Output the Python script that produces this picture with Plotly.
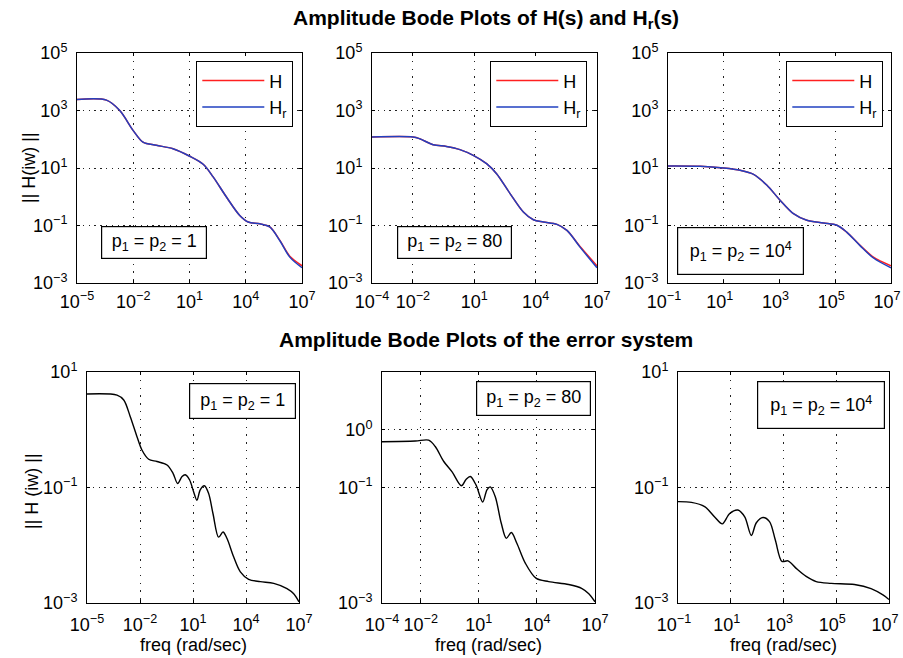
import numpy as np
import plotly.graph_objects as go

# ---- Bode magnitude data (log10 of frequency, log10 of magnitude) ----
# Row 1: full model H and reduced model H_r for three pole settings
top1_logw = [-5, -3.43, -2.72, -2.01, -1.48, -0.77, 0.12, 1.01, 1.73, 2.26, 2.97, 3.68, 4.13, 4.75, 5.28, 5.82, 6.35, 7]
top1_H = [3.38, 3.36, 3.0, 2.31, 1.90, 1.79, 1.67, 1.41, 1.13, 0.69, -0.01, -0.65, -0.88, -0.94, -1.05, -1.52, -2.07, -2.40]
top1_Hr = [3.38, 3.36, 3.0, 2.31, 1.90, 1.79, 1.67, 1.41, 1.13, 0.69, -0.01, -0.65, -0.88, -0.94, -1.05, -1.53, -2.10, -2.47]

top2_logw = [-4, -2, -1.67, -1.01, -0.36, 0.30, 0.95, 1.60, 2.09, 2.75, 3.40, 3.89, 4.38, 5.04, 5.53, 6.18, 7]
top2_H = [2.08, 2.08, 2.02, 1.81, 1.75, 1.64, 1.44, 1.15, 0.80, 0.11, -0.53, -0.80, -0.88, -0.96, -1.17, -1.74, -2.40]
top2_Hr = [2.08, 2.08, 2.02, 1.81, 1.75, 1.64, 1.44, 1.15, 0.80, 0.11, -0.53, -0.80, -0.88, -0.96, -1.17, -1.76, -2.47]

top3_logw = [-1, 0.16, 0.99, 1.59, 2.07, 2.55, 3.02, 3.50, 3.98, 4.58, 5.06, 5.41, 5.89, 6.37, 7]
top3_H = [1.07, 1.06, 1.0, 0.92, 0.78, 0.40, -0.12, -0.59, -0.82, -0.91, -0.99, -1.23, -1.69, -2.10, -2.40]
top3_Hr = [1.07, 1.06, 1.0, 0.92, 0.78, 0.40, -0.12, -0.59, -0.82, -0.91, -0.99, -1.23, -1.70, -2.13, -2.47]

# Row 2: error system magnitude
err1_logw = [-5, -3.30, -2.92, -2.55, -2.17, -1.89, -1.51, -1.04, -0.47, -0.13, 0.13, 0.38, 0.56, 0.81, 1.03,
             1.22, 1.41, 1.64, 1.88, 2.13, 2.45, 2.70, 2.92, 3.30, 3.68, 4.15, 4.81, 5.57, 6.32, 6.70, 7]
err1_mag = [0.62, 0.60, 0.515, 0.226, -0.12, -0.35, -0.51, -0.55, -0.61, -0.754, -0.93, -0.81, -0.78, -0.87, -1.07,
            -1.22, -1.04, -0.97, -1.10, -1.45, -1.86, -1.77, -1.88, -2.20, -2.46, -2.59, -2.63, -2.66, -2.75, -2.84, -2.98]

err2_logw = [-4, -2.28, -1.59, -1.25, -0.81, -0.38, 0.10, 0.34, 0.56, 0.86, 1.20, 1.42, 1.59, 1.85, 2.16,
             2.42, 2.68, 2.97, 3.40, 3.95, 4.61, 5.64, 6.33, 6.68, 7]
err2_mag = [-0.207, -0.195, -0.18, -0.29, -0.55, -0.73, -0.97, -0.86, -0.81, -0.96, -1.25, -1.04, -0.99, -1.16, -1.62,
            -1.88, -1.78, -1.97, -2.31, -2.57, -2.63, -2.68, -2.75, -2.84, -2.98]

err3_logw = [-1, -0.49, 0.01, 0.39, 0.68, 0.96, 1.27, 1.53, 1.78, 1.97, 2.22, 2.47, 2.69, 2.94, 3.17,
             3.48, 3.86, 4.24, 4.81, 5.69, 6.32, 6.77, 7]
err3_mag = [-1.245, -1.257, -1.33, -1.51, -1.63, -1.45, -1.39, -1.51, -1.83, -1.61, -1.52, -1.59, -1.91, -2.28, -2.27,
            -2.40, -2.54, -2.63, -2.66, -2.68, -2.75, -2.86, -2.94]

# Axis ranges (decades) and tick exponents
x_ranges = [(-5, 7), (-4, 7), (-1, 7)]
x_tick_exps = [[-5, -2, 1, 4, 7], [-4, -2, 1, 4, 7], [-1, 1, 3, 5, 7]]
top_y_tick_exps = [-3, -1, 1, 3, 5]
bot_y_tick_exps = [[-3, -1, 1], [-3, -1, 0], [-3, -1, 1]]

pole_labels = ["p<sub>1</sub> = p<sub>2</sub> = 1",
               "p<sub>1</sub> = p<sub>2</sub> = 80",
               "p<sub>1</sub> = p<sub>2</sub> = 10<sup>4</sup>"]

FONT = "Liberation Sans, Arial, Helvetica, sans-serif"
W, H = 903, 658
TXT = 18


def px_x(a, b):
    return [a / W, b / W]


def px_y(top, bottom):
    return [1 - bottom / H, 1 - top / H]


def pow_label(e):
    s = str(e).replace("-", "\u2212")
    return f"10<sup>{s}</sup>"


def tolin(arr):
    return np.power(10.0, np.array(arr, dtype=float))


# Panel frames in pixels: (left, right, top, bottom)
top_frames = [(77, 302, 53, 283), (372, 597, 53, 283), (668, 891, 53, 283)]
bot_frames = [(87, 299, 372, 603), (382, 595, 372, 603), (678, 889, 372, 603)]
# small leftward nudge of x tick labels so the last label stays inside the page
x_label_shift = [0, 0, -4]

fig = go.Figure()

top_sets = [(top1_logw, top1_H, top1_Hr), (top2_logw, top2_H, top2_Hr), (top3_logw, top3_H, top3_Hr)]
err_sets = [(err1_logw, err1_mag), (err2_logw, err2_mag), (err3_logw, err3_mag)]

legend_names = ["legend", "legend2", "legend3"]

for i, (lw, hm, hrm) in enumerate(top_sets):
    xa = "x" if i == 0 else f"x{i + 1}"
    ya = "y" if i == 0 else f"y{i + 1}"
    fig.add_trace(go.Scatter(x=tolin(lw), y=tolin(hm), mode="lines", name="H",
                             line=dict(color="#ff2020", width=1.5, shape="spline", smoothing=0.9),
                             xaxis=xa, yaxis=ya, legend=legend_names[i]))
    fig.add_trace(go.Scatter(x=tolin(lw), y=tolin(hrm), mode="lines", name="H<sub>r</sub>",
                             line=dict(color="#2040c0", width=1.5, shape="spline", smoothing=0.9),
                             xaxis=xa, yaxis=ya, legend=legend_names[i]))

for i, (lw, m) in enumerate(err_sets):
    fig.add_trace(go.Scatter(x=tolin(lw), y=tolin(m), mode="lines", showlegend=False,
                             line=dict(color="black", width=1.4, shape="spline", smoothing=0.9),
                             xaxis=f"x{i + 4}", yaxis=f"y{i + 4}"))

axis_common = dict(type="log", showline=True, linecolor="black", linewidth=1, mirror="ticks",
                   showgrid=True, gridcolor="#222222", gridwidth=1.3, automargin=False,
                   zeroline=False, ticks="inside", ticklen=3, tickcolor="black", tickwidth=1,
                   ticklabeloverflow="allow",
                   tickfont=dict(family=FONT, size=TXT, color="black"),
                   fixedrange=True)
x_grid_dash = "1.3px,6.5px"
y_grid_dash = "1.3px,4.5px"

layout = {}
for i in range(3):
    l, r, t, b = top_frames[i]
    xn = "xaxis" if i == 0 else f"xaxis{i + 1}"
    yn = "yaxis" if i == 0 else f"yaxis{i + 1}"
    ya = "y" if i == 0 else f"y{i + 1}"
    xa = "x" if i == 0 else f"x{i + 1}"
    layout[xn] = dict(axis_common, domain=px_x(l, r), anchor=ya, range=list(x_ranges[i]),
                      griddash=x_grid_dash, ticklabelstandoff=2, ticklabelshift=x_label_shift[i],
                      tickvals=[10.0 ** e for e in x_tick_exps[i]],
                      ticktext=[pow_label(e) for e in x_tick_exps[i]])
    layout[yn] = dict(axis_common, domain=px_y(t, b), anchor=xa, range=[-3, 5],
                      griddash=y_grid_dash,
                      tickvals=[10.0 ** e for e in top_y_tick_exps],
                      ticktext=[pow_label(e) for e in top_y_tick_exps], ticklabelstandoff=5)

for i in range(3):
    l, r, t, b = bot_frames[i]
    k = i + 4
    layout[f"xaxis{k}"] = dict(axis_common, domain=px_x(l, r), anchor=f"y{k}", range=list(x_ranges[i]),
                               griddash=x_grid_dash, ticklabelstandoff=5, ticklabelshift=x_label_shift[i],
                               tickvals=[10.0 ** e for e in x_tick_exps[i]],
                               ticktext=[pow_label(e) for e in x_tick_exps[i]])
    layout[f"yaxis{k}"] = dict(axis_common, domain=px_y(t, b), anchor=f"x{k}", range=[-3, 1],
                               griddash=y_grid_dash,
                               tickvals=[10.0 ** e for e in bot_y_tick_exps[i]],
                               ticktext=[pow_label(e) for e in bot_y_tick_exps[i]], ticklabelstandoff=5)

# Legends in the upper-right corner of each top panel
legend_right = [293, 587, 883]
for i, name in enumerate(legend_names):
    layout[name] = dict(x=legend_right[i] / W, y=1 - 61 / H, xanchor="right", yanchor="top",
                        xref="paper", yref="paper",
                        bgcolor="white", bordercolor="black", borderwidth=1.3,
                        font=dict(family=FONT, size=TXT, color="black"),
                        itemwidth=62, tracegroupgap=0)

annotations = []
# Pole-setting text boxes: (center x, center y, width, height)
top_boxes = [(154, 242.5, 98, 25), (454.5, 242.5, 107, 25), (740.5, 251, 119, 40)]
bot_boxes = [(242.5, 401, 99, 28), (533.5, 398.5, 107, 27), (821, 405, 120, 40)]
for boxes in (top_boxes, bot_boxes):
    for i, (cx, cy, bw, bh) in enumerate(boxes):
        annotations.append(dict(text=pole_labels[i], x=cx / W, y=1 - cy / H, xref="paper", yref="paper",
                                xanchor="center", yanchor="middle", showarrow=False,
                                width=bw, height=bh, align="center", valign="middle",
                                bordercolor="black", borderwidth=1.2, borderpad=3, bgcolor="white",
                                font=dict(family=FONT, size=TXT, color="black")))

# Row titles
annotations.append(dict(text="<b>Amplitude Bode Plots of H(s) and H<sub>r</sub>(s)</b>",
                        x=486 / W, y=1 - 19 / H, xref="paper", yref="paper", showarrow=False,
                        xanchor="center", yanchor="middle",
                        font=dict(family=FONT, size=21, color="black")))
annotations.append(dict(text="<b>Amplitude Bode Plots of the error system</b>",
                        x=486 / W, y=1 - 339 / H, xref="paper", yref="paper", showarrow=False,
                        xanchor="center", yanchor="middle",
                        font=dict(family=FONT, size=21, color="black")))

# Y-axis titles
annotations.append(dict(text="|| H(iw) ||", x=29 / W, y=1 - 167 / H, xref="paper", yref="paper",
                        showarrow=False, textangle=-90, xanchor="center", yanchor="middle",
                        font=dict(family=FONT, size=TXT, color="black")))
annotations.append(dict(text="|| H (iw) ||", x=32 / W, y=1 - 491 / H, xref="paper", yref="paper",
                        showarrow=False, textangle=-90, xanchor="center", yanchor="middle",
                        font=dict(family=FONT, size=TXT, color="black")))

# X-axis titles
for cx in (193, 488.5, 783.5):
    annotations.append(dict(text="freq (rad/sec)", x=cx / W, y=1 - 645 / H, xref="paper", yref="paper",
                            showarrow=False, xanchor="center", yanchor="middle",
                            font=dict(family=FONT, size=TXT, color="black")))

fig.update_layout(template="none", width=W, height=H, margin=dict(l=0, r=0, t=0, b=0),
                  paper_bgcolor="white", plot_bgcolor="white",
                  font=dict(family=FONT, color="black"),
                  annotations=annotations, **layout)

fig.write_html("out.html")
